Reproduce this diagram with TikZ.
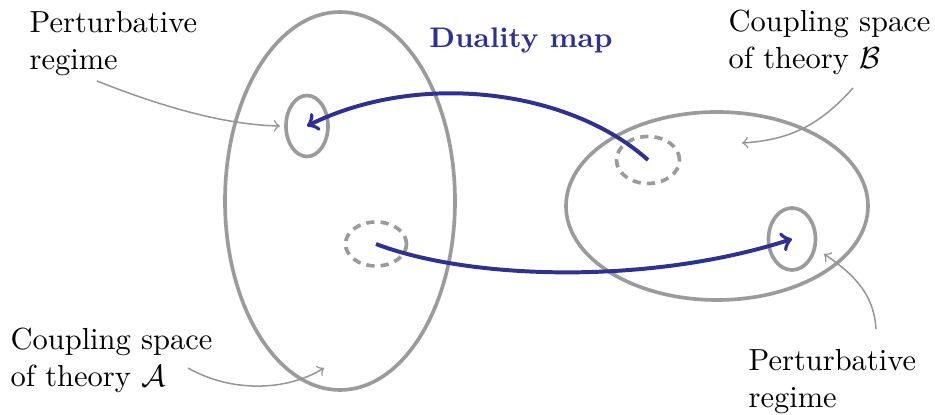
\documentclass[tikz,border=0pt]{standalone}
\usetikzlibrary{shapes.geometric}
\definecolor{ellgray}{RGB}{155,155,158}
\definecolor{notegray}{RGB}{150,150,152}
\definecolor{dualblue}{RGB}{46,49,146}
\begin{document}
\begin{tikzpicture}[x=0.328pt,y=-0.328pt,
  region/.style={ellipse,draw=ellgray,line width=1.2pt,inner sep=0pt},
  dregion/.style={region,dash pattern=on 2.7pt off 2pt},
  dualarrow/.style={->,draw=dualblue,line width=1.3pt},
  notearrow/.style={->,draw=notegray,line width=0.5pt},
  label/.style={align=left,anchor=north west,inner sep=0pt,font=\fontsize{10}{12.2}\selectfont}]
\useasboundingbox (0,0) rectangle (935,415);
% regions
\node[region,minimum width=230*0.328pt,minimum height=378*0.328pt] (A) at (340,201) {};
\node[region,minimum width=302*0.328pt,minimum height=188*0.328pt] (B) at (717,206) {};
\node[region,minimum width=42*0.328pt,minimum height=61*0.328pt] (pA) at (307,126) {};
\node[dregion,minimum width=61*0.328pt,minimum height=44*0.328pt] (dA) at (376,244) {};
\node[dregion,minimum width=63*0.328pt,minimum height=47*0.328pt] (dB) at (648,160) {};
\node[region,minimum width=47*0.328pt,minimum height=62*0.328pt] (pB) at (792,239) {};
% labels
\node[label] (lpA) at (29,11) {Perturbative\\regime};
\node[label] (lB) at (728,9) {Coupling space\\of theory $\mathcal{B}$};
\node[label] (lA) at (10,327) {Coupling space\\of theory $\mathcal{A}$};
\node[label] (lpB) at (748,349) {Perturbative\\regime};
\node[text=dualblue,font=\fontsize{9.3}{11}\selectfont\bfseries,anchor=base,inner sep=0pt] (dm) at (521,48) {Duality map};
% duality arrows
\draw[dualarrow] (dB.center) .. controls (570,90) and (420,70) .. (pA.center);
\draw[dualarrow] (dA.center) .. controls (470,280) and (650,285) .. (pB.center);
% annotation arrows
\coordinate (s1) at (97,81);   \coordinate (e1) at (280,126);
\coordinate (s2) at (853,88);  \coordinate (e2) at (742,143);
\coordinate (s3) at (188,368); \coordinate (e3) at (324,368);
\coordinate (s4) at (876,329); \coordinate (e4) at (824,254);
\draw[notearrow] (s1) .. controls (170,110) and (230,125) .. (e1);
\draw[notearrow] (s2) .. controls (820,125) and (790,140) .. (e2);
\draw[notearrow] (s3) .. controls (230,392) and (285,392) .. (e3);
\draw[notearrow] (s4) .. controls (874,295) and (855,275) .. (e4);
\end{tikzpicture}
\end{document}
